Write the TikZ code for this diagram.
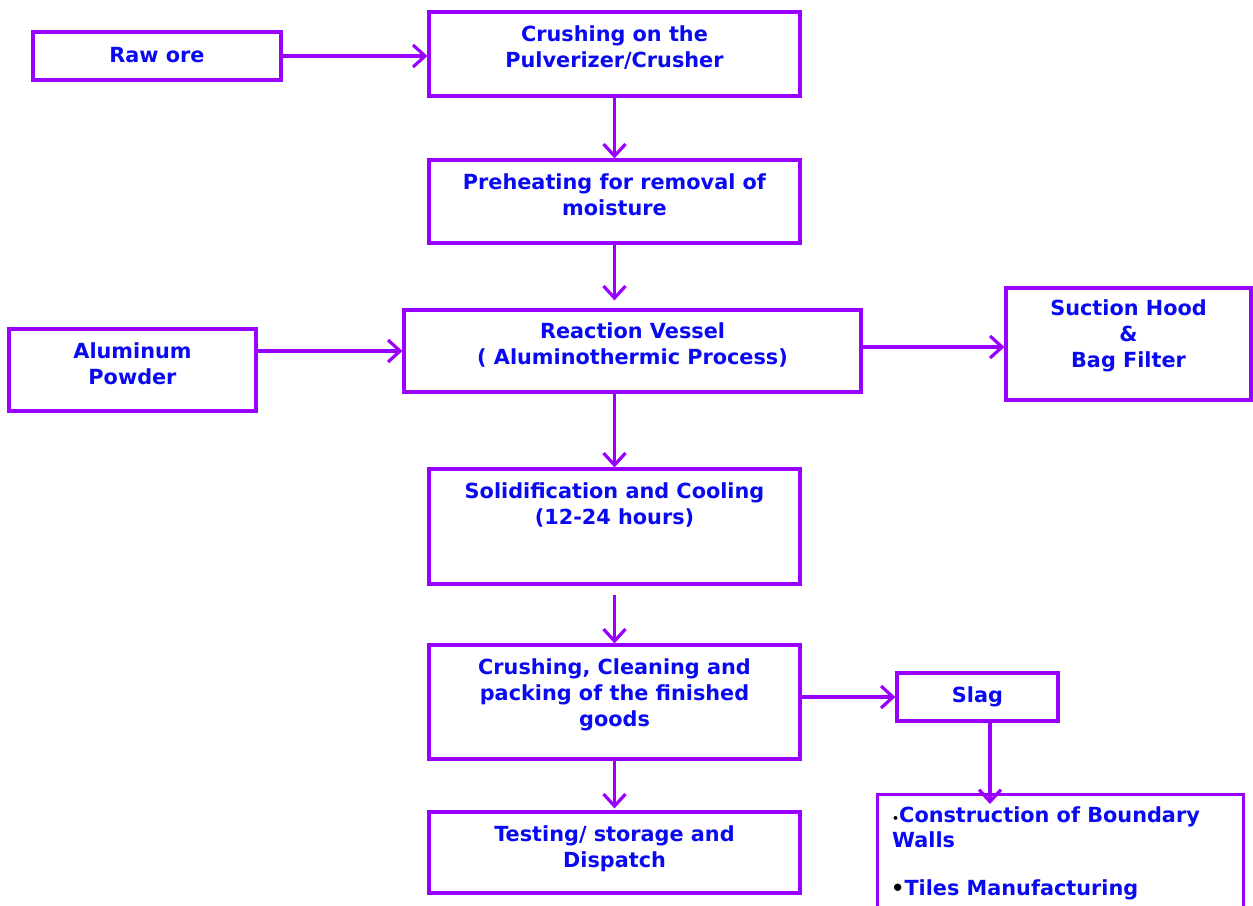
\documentclass[tikz,border=0pt]{standalone}
\usepackage{fontspec}
\setmainfont{DejaVu Sans}
\usetikzlibrary{arrows.meta}
\definecolor{pur}{RGB}{153,0,255}
\definecolor{txt}{RGB}{10,10,240}
\tikzset{
  box/.style={draw=pur, line width=3.2pt, fill=white, rectangle, inner sep=0pt},
  lbl/.style={text=txt, font=\fontsize{20.8}{26}\selectfont\bfseries, align=center, inner sep=0pt, anchor=base},
  arr/.style={draw=pur, line width=3.2pt, -{Straight Barb[length=12pt,width=22pt,line width=3.2pt]}},
}
\begin{document}
\begin{tikzpicture}[x=1pt,y=-1pt]
\clip (0,0) rectangle (1253,905);
\useasboundingbox (0,0) rectangle (1253,905);
% boxes
\node[box, minimum width=248pt, minimum height=48pt] (raw) at (157,56) {};
\node[box, minimum width=371pt, minimum height=84pt] (crush) at (614.5,54) {};
\node[box, minimum width=371pt, minimum height=83pt] (pre) at (614.5,201.5) {};
\node[box, minimum width=457pt, minimum height=82pt] (react) at (632.5,351) {};
\node[box, minimum width=247pt, minimum height=82pt] (alu) at (132.5,370) {};
\node[box, minimum width=245pt, minimum height=112pt] (suct) at (1128.5,344) {};
\node[box, minimum width=371pt, minimum height=115pt] (solid) at (614.5,526.5) {};
\node[box, minimum width=371pt, minimum height=114pt] (clean) at (614.5,702) {};
\node[box, minimum width=371pt, minimum height=81pt] (test) at (614.5,852.5) {};
\node[box, minimum width=161pt, minimum height=48pt] (slag) at (977.5,697) {};
\node[box, minimum width=366pt, minimum height=130pt, anchor=north west] (use) at (876,793) {};
\coordinate (usein) at (990,804);
% labels
\node[lbl] at (614.5,67) {Crushing on the\\Pulverizer/Crusher};
\node[lbl] at (157,62) {Raw ore};
\node[lbl] at (614.5,215) {Preheating for removal of\\moisture};
\node[lbl] at (632.5,364) {Reaction Vessel\\( Aluminothermic Process)};
\node[lbl] at (132.5,384) {Aluminum\\Powder};
\node[lbl] at (1128.5,367) {Suction Hood\\\&\\Bag Filter};
\node[lbl] at (614.5,524) {Solidification and Cooling\\(12-24 hours)};
\node[lbl] at (614.5,726) {Crushing, Cleaning and\\packing of the finished\\goods};
\node[lbl] at (614.5,867) {Testing/ storage and\\Dispatch};
\node[lbl] at (977.5,702) {Slag};
\node[lbl, anchor=base west, align=left, font=\fontsize{20.8}{25}\selectfont\bfseries] at (892,847) {{\color{black}\fontsize{11}{11}\selectfont\textbullet}Construction of Boundary\\Walls};
\node[lbl, anchor=base west, align=left] at (891,895) {{\color{black}\textbullet}Tiles Manufacturing};
% arrows
\draw[arr] (raw.east) -- (raw.east -| crush.west);
\draw[arr] (crush.south) -- (pre.north);
\draw[arr, shorten >=8pt] (pre.south) -- (pre.south |- react.north);
\draw[arr] (alu.east |- react.west) -- (react.west);
\draw[arr] (react.east |- 0,347) -- (suct.west |- 0,347);
\draw[arr] (react.south -| solid.north) -- (solid.north);
\draw[arr, shorten <=9pt] (solid.south) -- (clean.north);
\draw[arr] (clean.east |- slag.west) -- (slag.west);
\draw[arr, shorten >=2pt] (clean.south) -- (test.north);
\draw[arr] (slag.south -| usein) -- (usein);
\end{tikzpicture}
\end{document}
